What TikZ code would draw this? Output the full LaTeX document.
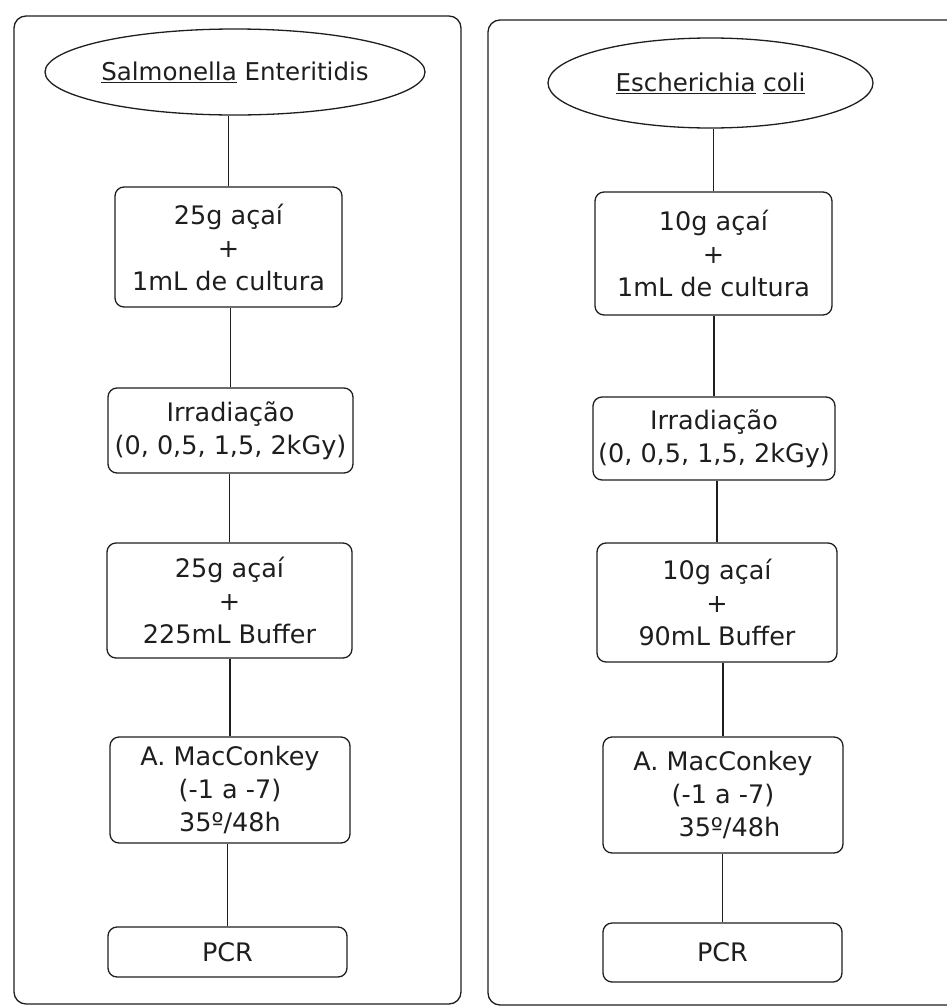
\documentclass[tikz,border=0pt]{standalone}
\usepackage{fontspec}
\setmainfont{DejaVu Sans}
\usetikzlibrary{shapes.geometric}
\definecolor{ink}{HTML}{1E1E1E}
\begin{document}
\begin{tikzpicture}[x=1pt,y=-1pt, line width=1.3pt, draw=ink, text=ink,
  box/.style={draw=ink, rounded corners=9pt, align=center, inner sep=0pt, font=\fontsize{25.5}{33}\selectfont},
  oval/.style={draw=ink, ellipse, inner sep=0pt, font=\fontsize{24.5}{33}\selectfont},
  panel/.style={draw=ink, rounded corners=12pt},
  link/.style={draw=ink, line width=1.1pt}]
\useasboundingbox (0,0) rectangle (947,1007);
\clip (0,0) rectangle (947,1007);
% panels
\draw[panel] (14,16) rectangle (461,1004);
\draw[panel] (488,20) rectangle (990,1005);
% left column
\node[oval, minimum width=380pt, minimum height=86pt] (le) at (235,72) {\underline{Salmonella} Enteritidis};
\node[box, minimum width=227pt, minimum height=120pt] (l1) at (228.5,247) {25g açaí\\+\\1mL de cultura};
\node[box, minimum width=245pt, minimum height=85pt] (l2) at (230.5,430.5) {Irradiação\\(0, 0,5, 1,5, 2kGy)};
\node[box, minimum width=245pt, minimum height=115pt] (l3) at (229.5,600.5) {25g açaí\\+\\225mL Buffer};
\node[box, minimum width=240pt, minimum height=106pt] (l4) at (230,790) {A. MacConkey\\(-1 a -7)\\35º/48h};
\node[box, minimum width=239pt, minimum height=50pt] (l5) at (227.5,952) {PCR};
\draw[link] (l1.north) -- (l1.north |- le.south);
\draw[link] (l2.north) -- (l2.north |- l1.south);
\draw[link] (l3.north) -- (l3.north |- l2.south);
\draw[link] (l4.north) -- (l4.north |- l3.south);
\draw[link] (l5.north) -- (l5.north |- l4.south);
% right column
\node[oval, minimum width=325pt, minimum height=90pt] (re) at (710.5,83) {\underline{Escherichia} \underline{coli}};
\node[box, minimum width=237pt, minimum height=123pt] (r1) at (713.5,253.5) {10g açaí\\+\\1mL de cultura};
\node[box, minimum width=242pt, minimum height=83pt] (r2) at (714,438.5) {Irradiação\\(0, 0,5, 1,5, 2kGy)};
\node[box, minimum width=240pt, minimum height=119pt] (r3) at (717,602.5) {10g açaí\\+\\90mL Buffer};
\node[box, minimum width=240pt, minimum height=116pt] (r4) at (723,795) {A. MacConkey\\(-1 a -7)\\\hspace*{0.5em}35º/48h};
\node[box, minimum width=239pt, minimum height=59pt] (r5) at (722.5,952.5) {PCR};
\draw[link] (r1.north) -- (r1.north |- re.south);
\draw[link] (r2.north) -- (r2.north |- r1.south);
\draw[link] (r3.north) -- (r3.north |- r2.south);
\draw[link] (r4.north) -- (r4.north |- r3.south);
\draw[link] (r5.north) -- (r5.north |- r4.south);
\end{tikzpicture}
\end{document}
